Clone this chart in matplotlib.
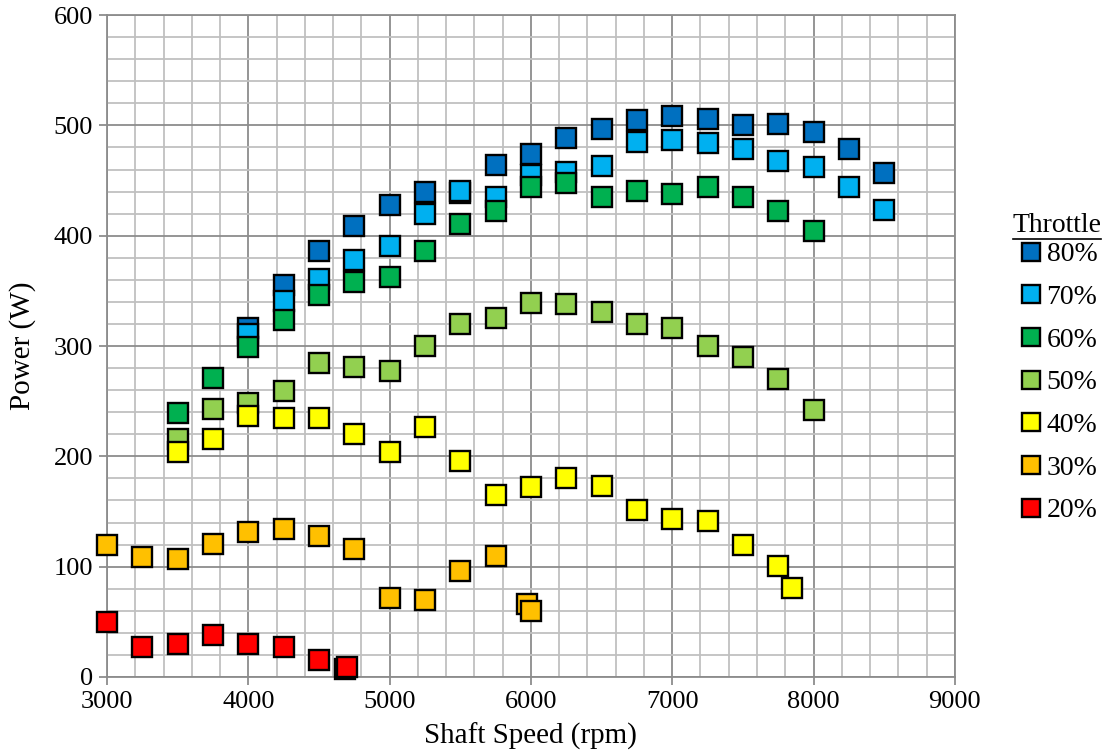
import matplotlib
matplotlib.use("Agg")
import matplotlib.pyplot as plt
from matplotlib.lines import Line2D
from matplotlib.ticker import MultipleLocator

plt.rcParams['font.family'] = ['Liberation Serif', 'DejaVu Serif']

# Shaft speed (rpm) and power (W) at each throttle setting
rpm_80 = [4000, 4250, 4500, 4750, 5000, 5250, 5500, 5750, 6000, 6250,
          6500, 6750, 7000, 7250, 7500, 7750, 8000, 8250, 8500]
pow_80 = [316, 355, 386, 409, 428, 440, 439, 464, 474, 489,
          497, 505, 509, 506, 500, 501, 494, 479, 457]

rpm_70 = [4000, 4250, 4500, 4750, 5000, 5250, 5500, 5750, 6000, 6250,
          6500, 6750, 7000, 7250, 7500, 7750, 8000, 8250, 8500]
pow_70 = [311, 341, 361, 378, 391, 420, 441, 435, 455, 458,
          463, 485, 487, 484, 479, 468, 462, 444, 423]

rpm_60 = [3500, 3750, 4000, 4250, 4500, 4750, 5000, 5250, 5500, 5750,
          6000, 6250, 6500, 6750, 7000, 7250, 7500, 7750, 8000]
pow_60 = [239, 271, 299, 324, 346, 358, 363, 386, 411, 422,
          444, 448, 435, 441, 438, 444, 435, 422, 404]

rpm_50 = [3500, 3750, 4000, 4250, 4500, 4750, 5000, 5250, 5500, 5750,
          6000, 6250, 6500, 6750, 7000, 7250, 7500, 7750, 8000]
pow_50 = [216, 243, 248, 259, 285, 281, 277, 300, 320, 325,
          339, 338, 331, 320, 316, 300, 290, 270, 242]

rpm_40 = [3500, 3750, 4000, 4250, 4500, 4750, 5000, 5250, 5500, 5750,
          6000, 6250, 6500, 6750, 7000, 7250, 7500, 7750, 7850]
pow_40 = [204, 216, 237, 235, 235, 220, 204, 227, 196, 165,
          172, 180, 173, 151, 143, 141, 120, 101, 81]

rpm_30 = [3000, 3250, 3500, 3750, 4000, 4250, 4500, 4750, 5000, 5250,
          5500, 5750, 5970, 6003]
pow_30 = [120, 109, 107, 121, 131, 134, 128, 116, 72, 70,
          96, 110, 66, 60]

rpm_20 = [3000, 3250, 3500, 3750, 4000, 4250, 4500, 4685, 4700]
pow_20 = [50, 27, 30, 38, 30, 27, 15, 7, 9]

labels = ['80%', '70%', '60%', '50%', '40%', '30%', '20%']
colors = ['#0070C0', '#00B0F0', '#00B050', '#92D050', '#FFFF00', '#FFC000', '#FF0000']
series = [(rpm_80, pow_80), (rpm_70, pow_70), (rpm_60, pow_60), (rpm_50, pow_50),
          (rpm_40, pow_40), (rpm_30, pow_30), (rpm_20, pow_20)]

fig = plt.figure(figsize=(11.09, 7.56), dpi=100)
ax = fig.add_axes([0.0965, 0.1045, 0.7645, 0.8755])

for (x, y), c in zip(series, colors):
    ax.plot(x, y, linestyle='none', marker='s', markersize=14,
            markerfacecolor=c, markeredgecolor='black', markeredgewidth=1.7,
            zorder=3, clip_on=False)

ax.set_xlim(3000, 9000)
ax.set_ylim(0, 600)
ax.xaxis.set_major_locator(MultipleLocator(1000))
ax.xaxis.set_minor_locator(MultipleLocator(200))
ax.yaxis.set_major_locator(MultipleLocator(100))
ax.yaxis.set_minor_locator(MultipleLocator(20))

ax.grid(which='minor', color='#c0c0c0', linewidth=1.3, zorder=0)
ax.grid(which='major', color='#8c8c8c', linewidth=1.3, zorder=1)
ax.set_axisbelow(True)

for s in ax.spines.values():
    s.set_color('#8c8c8c')
    s.set_linewidth(1.3)

ax.tick_params(which='major', direction='out', length=6, width=1.3,
               color='#8c8c8c', labelsize=19, pad=4)
ax.tick_params(which='minor', length=0)

ax.set_xlabel('Shaft Speed (rpm)', fontsize=21, labelpad=7)
ax.set_ylabel('Power (W)', fontsize=21, labelpad=13)

handles = [Line2D([], [], linestyle='none', marker='s', markersize=13,
                  markerfacecolor=c, markeredgecolor='black', markeredgewidth=1.7)
           for c in colors]
leg = fig.legend(handles, labels, loc='upper left',
                 bbox_to_anchor=(1023 / 1109, 1 - 242 / 756),
                 frameon=False, fontsize=20, handlelength=0.6,
                 handletextpad=0.25, labelspacing=0.62, borderpad=0,
                 borderaxespad=0)

fig.text(1057 / 1109, 1 - 225 / 756, 'Throttle', fontsize=20,
         ha='center', va='center')
fig.add_artist(Line2D([1013 / 1109, 1101 / 1109], [1 - 239 / 756, 1 - 239 / 756],
                      color='black', linewidth=1.2, transform=fig.transFigure))

fig.savefig('out.png', dpi=100)
